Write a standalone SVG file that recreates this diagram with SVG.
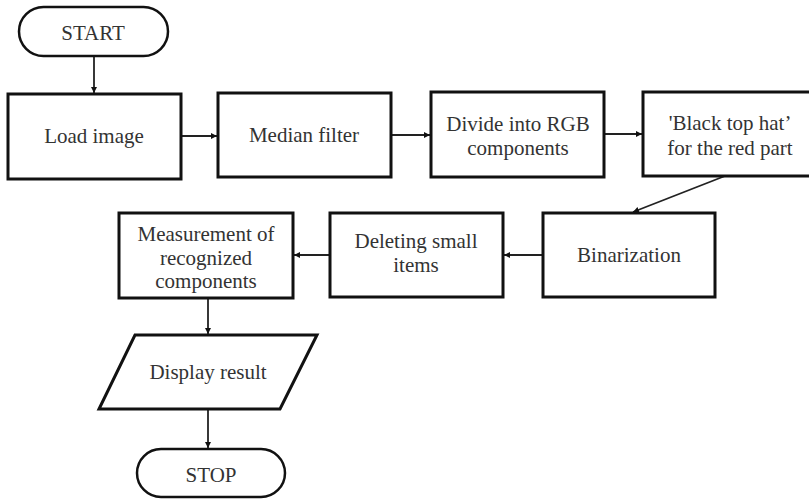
<svg xmlns="http://www.w3.org/2000/svg" width="809" height="499" viewBox="0 0 809 499">
<defs>
<marker id="arr" viewBox="0 0 10 10" refX="10" refY="5" markerWidth="6" markerHeight="6" markerUnits="userSpaceOnUse" orient="auto"><path d="M0,0 L10,5 L0,10 z" fill="#111"/></marker>
<style>
.box{fill:#fff;stroke:#111;stroke-width:3}
.term{fill:#fff;stroke:#111;stroke-width:2.5}
.t{font-family:"Liberation Serif","Times New Roman",serif;font-size:21px;fill:#333;text-anchor:middle}
.c{fill:none;stroke:#222;stroke-width:1.8;marker-end:url(#arr)}
</style>
</defs>
<rect width="809" height="499" fill="#fff"/>
<g id="connectors">
<line class="c" x1="94" y1="56" x2="94" y2="93"/>
<line class="c" x1="181" y1="136" x2="217" y2="136"/>
<line class="c" x1="391" y1="135" x2="430" y2="135"/>
<line class="c" x1="604" y1="134" x2="642" y2="134"/>
<line class="c" x1="725" y1="176" x2="633" y2="212"/>
<line class="c" x1="543" y1="255" x2="504" y2="255"/>
<line class="c" x1="330" y1="255" x2="294" y2="255"/>
<line class="c" x1="208" y1="298" x2="208" y2="334"/>
<line class="c" x1="208" y1="409" x2="208" y2="448"/>
</g>
<g id="start">
<rect class="term" x="19" y="7" width="149" height="49" rx="24.5"/>
<text class="t" x="93" y="40">START</text>
</g>
<g id="load">
<rect class="box" x="8" y="94" width="173" height="85"/>
<text class="t" x="94" y="143">Load image</text>
</g>
<g id="median">
<rect class="box" x="218" y="93" width="173" height="84"/>
<text class="t" x="304" y="142">Median filter</text>
</g>
<g id="divide">
<rect class="box" x="431" y="92" width="173" height="85"/>
<text class="t" x="518" y="131">Divide into RGB</text>
<text class="t" x="518" y="155">components</text>
</g>
<g id="tophat">
<rect class="box" x="643" y="92" width="170" height="84"/>
<text class="t" x="730" y="130">'Black top hat’</text>
<text class="t" x="730" y="155">for the red part</text>
</g>
<g id="binarization">
<rect class="box" x="543" y="213" width="172" height="84"/>
<text class="t" x="629" y="262">Binarization</text>
</g>
<g id="deleting">
<rect class="box" x="330" y="213" width="173" height="84"/>
<text class="t" x="416" y="248">Deleting small</text>
<text class="t" x="416" y="272">items</text>
</g>
<g id="measurement">
<rect class="box" x="119" y="213" width="174" height="85"/>
<text class="t" x="206" y="241">Measurement of</text>
<text class="t" x="206" y="265">recognized</text>
<text class="t" x="206" y="288">components</text>
</g>
<g id="display">
<polygon class="box" points="135,335 317,335 280,409 99,409"/>
<text class="t" x="208" y="379">Display result</text>
</g>
<g id="stop">
<rect class="term" x="137" y="449" width="148" height="48" rx="24"/>
<text class="t" x="211" y="482">STOP</text>
</g>
</svg>
